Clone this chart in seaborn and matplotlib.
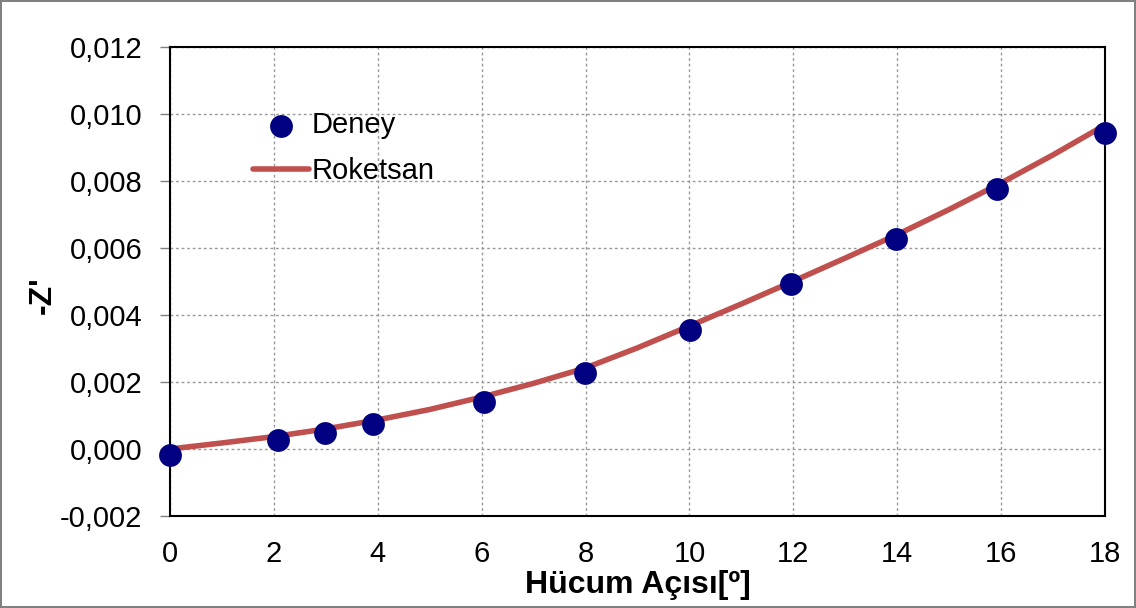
import matplotlib
matplotlib.use("Agg")
import matplotlib.pyplot as plt
import seaborn as sns
import pandas as pd
from matplotlib.ticker import FuncFormatter

# Data
deney_x = [0.0, 2.08, 2.98, 3.91, 6.05, 7.99, 10.01, 11.96, 13.98, 15.92, 18.0]
deney_y = [-0.00018, 0.00027, 0.00048, 0.00075, 0.00140, 0.00227, 0.00355, 0.00493, 0.00627, 0.00776, 0.00943]

roketsan_x = [0, 1, 2, 3, 4, 5, 6, 7, 8, 9, 10, 11, 12, 13, 14, 15, 16, 17, 18]
roketsan_y = [0.0, 0.00018, 0.00037, 0.00060, 0.00087, 0.00118, 0.00155, 0.00196, 0.00242, 0.00302, 0.00367, 0.00433, 0.00501, 0.00570, 0.00640, 0.00715, 0.00794, 0.00878, 0.00967]

x_ticks = [0, 2, 4, 6, 8, 10, 12, 14, 16, 18]
y_ticks = [-0.002, 0.0, 0.002, 0.004, 0.006, 0.008, 0.010, 0.012]

sns.set_theme(style="white")
plt.rcParams['font.family'] = ['Liberation Sans', 'DejaVu Sans']
plt.rcParams['text.color'] = 'black'
plt.rcParams['axes.labelcolor'] = 'black'
plt.rcParams['xtick.color'] = 'black'
plt.rcParams['ytick.color'] = 'black'

fig = plt.figure(figsize=(11.36, 6.08), dpi=100)
fig.patch.set_edgecolor('#808080')
fig.patch.set_linewidth(1.5)
ax = fig.add_axes([0.1496, 0.1513, 0.9727 - 0.1496, 0.9227 - 0.1513])

df_line = pd.DataFrame({"x": roketsan_x, "y": roketsan_y})
df_pts = pd.DataFrame({"x": deney_x, "y": deney_y})

sns.lineplot(data=df_line, x="x", y="y", ax=ax, color="#C0504D", linewidth=4.0,
             label="Roketsan", zorder=3, clip_on=False)
sns.scatterplot(data=df_pts, x="x", y="y", ax=ax, color="#000080", s=270,
                edgecolor="#000080", linewidth=0, label="Deney", zorder=4, clip_on=False)

ax.set_xlim(0, 18)
ax.set_ylim(-0.002, 0.012)
ax.set_xticks(x_ticks)
ax.set_yticks(y_ticks)
ax.xaxis.set_major_formatter(FuncFormatter(lambda v, p: f"{v:g}"))
ax.yaxis.set_major_formatter(FuncFormatter(lambda v, p: f"{v:.3f}".replace(".", ",").replace("-0,000", "0,000")))

ax.grid(True, color="#999999", linestyle=(0, (2, 2)), linewidth=1.0)
for s in ax.spines.values():
    s.set_visible(True)
    s.set_color("black")
    s.set_linewidth(1.5)

ax.tick_params(axis='y', which='major', length=7, width=1, color='#808080', direction='out',
               labelsize=21, pad=13, left=True, labelcolor='black')
ax.tick_params(axis='x', which='major', length=0, labelsize=21, pad=17, labelcolor='black')

ax.set_xlabel("Hücum Açısı[º]", fontsize=23, fontweight="bold", labelpad=2)
ax.set_ylabel("-Z'", fontsize=23, fontweight="bold")
ax.yaxis.set_label_coords(-0.12, 0.47)

handles, labels = ax.get_legend_handles_labels()
order = [labels.index("Deney"), labels.index("Roketsan")]
leg = ax.legend([handles[i] for i in order], [labels[i] for i in order],
                loc="upper left", bbox_to_anchor=(0.2, 0.86), bbox_transform=fig.transFigure,
                frameon=False, fontsize=21, handlelength=1.9, handletextpad=0.1,
                labelspacing=0.62, markerscale=1.0)

fig.savefig("out.png", dpi=100)
